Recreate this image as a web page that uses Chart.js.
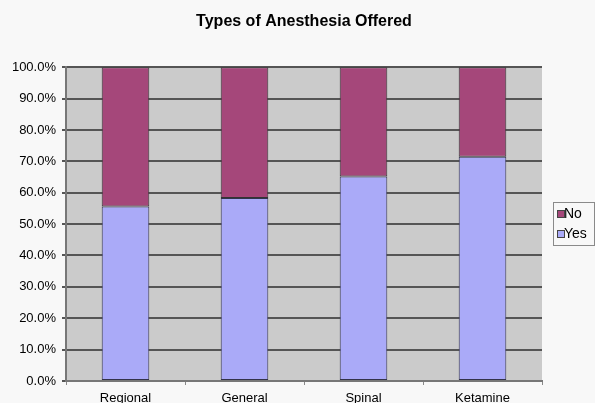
<!DOCTYPE html>
<html>
<head>
<meta charset="utf-8">
<script src="https://cdn.jsdelivr.net/npm/chart.js@4/dist/chart.umd.min.js"></script>
<style>
  html, body { margin: 0; padding: 0; background: #f8f8f8; }
  #wrap { width: 595px; height: 403px; }
</style>
</head>
<body>
<div id="wrap"><canvas id="myChart" width="595" height="403"></canvas></div>
<script>
var categories = ["Regional", "General", "Spinal", "Ketamine"];
var yes_vals = [55.6, 58.3, 65.2, 71.5];
var no_vals = [44.4, 41.7, 34.8, 28.5];
var y_ticks = [0, 10, 20, 30, 40, 50, 60, 70, 80, 90, 100];

// gray plot area behind the bars
var plotBg = {
  id: 'plotBg',
  beforeDraw: function(chart){
    var a = chart.chartArea, ctx = chart.ctx;
    ctx.save();
    ctx.fillStyle = '#cbcbcb';
    ctx.fillRect(a.left, a.top, a.right - a.left, a.bottom - a.top);
    ctx.restore();
  }
};

// boxed legend on the right, No above Yes
var boxLegend = {
  id: 'boxLegend',
  afterDraw: function(chart){
    var ctx = chart.ctx;
    var x = 553, y = 202, w = 41, h = 43;
    ctx.save();
    ctx.strokeStyle = '#8a8a8a';
    ctx.lineWidth = 1;
    ctx.strokeRect(x + 0.5, y + 0.5, w, h);
    ctx.font = '14px "Liberation Sans", Arial, sans-serif';
    ctx.textBaseline = 'middle';
    var ds = chart.data.datasets.slice().reverse();
    ds.forEach(function(d, i){
      var cy = y + 12 + i * 20;
      ctx.fillStyle = d.backgroundColor;
      ctx.fillRect(x + 5, cy - 3, 6, 6);
      ctx.strokeStyle = '#444';
      ctx.strokeRect(x + 4.5, cy - 3.5, 7, 7);
      ctx.fillStyle = '#000';
      ctx.fillText(d.label, x + 11, cy);
    });
    ctx.restore();
  }
};

var ctx = document.getElementById("myChart");
var chart = new Chart(ctx, {
  type: 'bar',
  data: {
    labels: categories,
    datasets: [
      { label: 'Yes', data: yes_vals, backgroundColor: '#aaaaf8', borderColor: '#33334a', borderWidth: 1, borderSkipped: false },
      { label: 'No', data: no_vals, backgroundColor: '#a5477a', borderColor: '#333333', borderWidth: 1, borderSkipped: false }
    ]
  },
  options: {
    responsive: false,
    animation: false,
    layout: { padding: { left: 0, right: 53, top: 0, bottom: 0 } },
    datasets: { bar: { categoryPercentage: 1.0, barPercentage: 0.4 } },
    plugins: {
      legend: { display: false },
      tooltip: { enabled: false },
      title: {
        display: true,
        text: 'Types of Anesthesia Offered',
        color: '#000',
        fullSize: false,
        font: { family: '"Liberation Sans", Arial, sans-serif', size: 16, weight: 'bold' },
        padding: { top: 12, bottom: 36 }
      }
    },
    scales: {
      x: {
        stacked: true,
        grid: { display: true, drawOnChartArea: false, offset: true, color: '#888', tickLength: 4 },
        border: { color: '#777', width: 2 },
        ticks: { color: '#000', padding: 6, font: { family: '"Liberation Sans", Arial, sans-serif', size: 13 } },
        afterFit: function(s){ s.height = 22; }
      },
      y: {
        stacked: true,
        min: 0, max: 100,
        afterBuildTicks: function(s){ s.ticks = y_ticks.map(function(v){ return { value: v }; }); },
        grid: { color: '#555', lineWidth: 2, tickLength: 4 },
        border: { color: '#777', width: 2 },
        ticks: {
          color: '#000', padding: 6,
          font: { family: '"Liberation Sans", Arial, sans-serif', size: 13 },
          callback: function(v){ return v.toFixed(1) + '%'; }
        },
        afterFit: function(s){ s.width = 66; }
      }
    }
  },
  plugins: [plotBg, boxLegend]
});
</script>
</body>
</html>
